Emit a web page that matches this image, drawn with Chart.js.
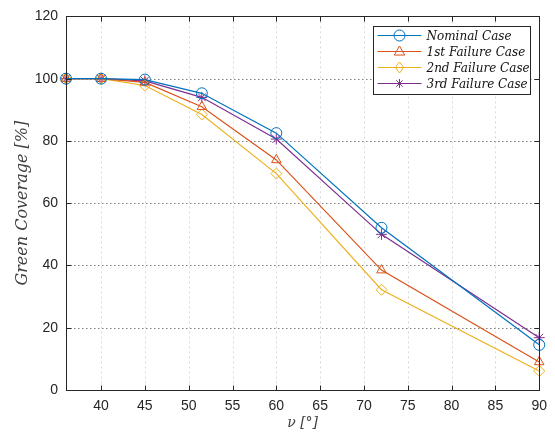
<!DOCTYPE html>
<html>
<head>
<meta charset="utf-8">
<script src="https://cdn.jsdelivr.net/npm/chart.js@4/dist/chart.umd.min.js"></script>
<style>
  html, body { margin: 0; padding: 0; background: #ffffff; }
  #wrap { width: 555px; height: 435px; position: relative; }
</style>
</head>
<body>
<div id="wrap"><canvas id="c" width="555" height="435"></canvas></div>
<script>
// ---- data ----
const categories = [36, 40, 45, 51.5, 60, 72, 90];
const nominalCase = [100, 100, 99.7, 95.3, 82.5, 52.1, 14.5];
const failure1 = [100, 100, 98.8, 91.0, 73.9, 38.5, 9.0];
const failure2 = [100, 100, 97.8, 88.5, 69.5, 32.2, 6.1];
const failure3 = [100, 100, 99.3, 94.0, 80.6, 50.0, 16.8];
const seriesNames = ['Nominal Case', '1st Failure Case', '2nd Failure Case', '3rd Failure Case'];
const xTickLabels = [40, 45, 50, 55, 60, 65, 70, 75, 80, 85, 90];
const yTickLabels = [0, 20, 40, 60, 80, 100, 120];
const xTitle = 'ν [°]';
const yTitle = 'Green Coverage [%]';

const colors = ['#0072BD', '#D95319', '#EDB120', '#7E2F8E'];
const markers = ['circle', 'triangle', 'rectRot', 'star'];
const seriesValues = [nominalCase, failure1, failure2, failure3];

function drawMarker(ctx, style, x, y, r, color) {
  ctx.save();
  ctx.strokeStyle = color;
  ctx.fillStyle = color;
  ctx.lineWidth = 1;
  ctx.setLineDash([]);
  ctx.beginPath();
  if (style === 'circle') {
    ctx.arc(x, y, r, 0, Math.PI * 2);
  } else if (style === 'triangle') {
    ctx.moveTo(x, y - r);
    ctx.lineTo(x + r * 0.95, y + r * 0.65);
    ctx.lineTo(x - r * 0.95, y + r * 0.65);
    ctx.closePath();
  } else if (style === 'rectRot') {
    ctx.moveTo(x, y - r);
    ctx.lineTo(x + r * 0.75, y);
    ctx.lineTo(x, y + r);
    ctx.lineTo(x - r * 0.75, y);
    ctx.closePath();
  } else if (style === 'star') {
    const a = r * 0.8;
    ctx.moveTo(x - a, y); ctx.lineTo(x + a, y);
    ctx.moveTo(x, y - a); ctx.lineTo(x, y + a);
    const d = a * 0.72;
    ctx.moveTo(x - d, y - d); ctx.lineTo(x + d, y + d);
    ctx.moveTo(x - d, y + d); ctx.lineTo(x + d, y - d);
  }
  ctx.stroke();
  ctx.restore();
}

const framePlugin = {
  id: 'frame',
  beforeDatasetsDraw(chart) {
    const ctx = chart.ctx, a = chart.chartArea;
    const xs = chart.scales.x, ys = chart.scales.y;
    ctx.save();
    ctx.lineWidth = 1;
    // vertical grid
    ctx.strokeStyle = 'rgba(170,170,170,0.45)';
    ctx.setLineDash([2, 3]);
    xTickLabels.forEach(v => {
      const px = Math.round(xs.getPixelForValue(v)) + 0.5;
      if (px > a.left + 1 && px < a.right - 1) {
        ctx.beginPath(); ctx.moveTo(px, a.top); ctx.lineTo(px, a.bottom); ctx.stroke();
      }
    });
    // horizontal grid
    ctx.strokeStyle = 'rgba(70,70,70,0.7)';
    ctx.setLineDash([1.5, 2.5]);
    yTickLabels.forEach(v => {
      const py = Math.round(ys.getPixelForValue(v)) + 0.5;
      if (py > a.top + 1 && py < a.bottom + 1) {
        ctx.beginPath(); ctx.moveTo(a.left, py); ctx.lineTo(a.right, py); ctx.stroke();
      }
    });
    ctx.restore();
  },
  afterDatasetsDraw(chart) {
    const ctx = chart.ctx, a = chart.chartArea;
    const xs = chart.scales.x, ys = chart.scales.y;
    ctx.save();
    ctx.setLineDash([]);
    ctx.strokeStyle = '#262626';
    ctx.lineWidth = 1;
    const L = Math.round(a.left) + 0.5, R = Math.round(a.right) + 0.5;
    const T = Math.round(a.top) + 0.5, B = Math.round(a.bottom) + 0.5;
    ctx.strokeRect(L, T, R - L, B - T);
    const tl = 5;
    ctx.beginPath();
    xTickLabels.forEach(v => {
      const px = Math.round(xs.getPixelForValue(v)) + 0.5;
      ctx.moveTo(px, B); ctx.lineTo(px, B - tl);
      ctx.moveTo(px, T); ctx.lineTo(px, T + tl);
    });
    yTickLabels.forEach(v => {
      const py = Math.round(ys.getPixelForValue(v)) + 0.5;
      ctx.moveTo(L, py); ctx.lineTo(L + tl, py);
      ctx.moveTo(R, py); ctx.lineTo(R - tl, py);
    });
    ctx.stroke();

    // legend
    const bx = 373.5, by = 26.5, bw = 157, bh = 68;
    ctx.fillStyle = '#ffffff';
    ctx.fillRect(bx, by, bw, bh);
    ctx.strokeStyle = '#262626';
    ctx.strokeRect(bx, by, bw, bh);
    ctx.font = 'italic 12px "DejaVu Serif"';
    ctx.textBaseline = 'middle';
    ctx.textAlign = 'left';
    seriesNames.forEach((name, i) => {
      const ry = by + 9 + i * 16;
      ctx.strokeStyle = colors[i];
      ctx.lineWidth = 1.2;
      ctx.beginPath(); ctx.moveTo(bx + 4, ry); ctx.lineTo(bx + 48, ry); ctx.stroke();
      drawMarker(ctx, markers[i], bx + 26, ry, 5.5, colors[i]);
      ctx.fillStyle = '#111111';
      ctx.fillText(name, bx + 53, ry + 1);
    });
    ctx.restore();
  }
};

const datasets = seriesValues.map((vals, i) => ({
  label: seriesNames[i],
  data: categories.map((c, j) => ({ x: c, y: vals[j] })),
  borderColor: colors[i],
  backgroundColor: 'rgba(0,0,0,0)',
  pointBorderColor: colors[i],
  pointBackgroundColor: 'rgba(0,0,0,0)',
  pointStyle: markers[i],
  pointRadius: 5.5,
  pointBorderWidth: 1,
  borderWidth: 1.2,
  tension: 0,
  clip: false
}));

new Chart(document.getElementById('c'), {
  type: 'line',
  data: { datasets },
  plugins: [framePlugin],
  options: {
    responsive: false,
    animation: false,
    devicePixelRatio: 1,
    layout: { padding: { top: 14, right: 14, left: 0, bottom: 0 } },
    plugins: { legend: { display: false }, tooltip: { enabled: false } },
    scales: {
      x: {
        type: 'linear',
        min: 36, max: 90,
        afterBuildTicks: s => { s.ticks = xTickLabels.map(v => ({ value: v })); },
        afterFit: s => { s.height = 45; },
        grid: { display: false, drawTicks: false },
        border: { display: false },
        ticks: { color: '#262626', font: { family: '"Liberation Sans", Arial', size: 14 }, padding: 8, maxRotation: 0, autoSkip: false },
        title: { display: true, text: xTitle, color: '#404040', font: { family: '"DejaVu Serif"', style: 'italic', size: 14 }, padding: { top: 0, bottom: 3.6 } }
      },
      y: {
        type: 'linear',
        min: 0, max: 120,
        afterBuildTicks: s => { s.ticks = yTickLabels.map(v => ({ value: v })); },
        afterFit: s => { s.width = 66; },
        grid: { display: false, drawTicks: false },
        border: { display: false },
        ticks: { color: '#262626', font: { family: '"Liberation Sans", Arial', size: 14 }, padding: 8 },
        title: { display: true, text: yTitle, color: '#404040', font: { family: '"DejaVu Serif"', style: 'italic', size: 16 }, padding: { top: 13, bottom: 0 } }
      }
    }
  }
});
</script>
</body>
</html>
